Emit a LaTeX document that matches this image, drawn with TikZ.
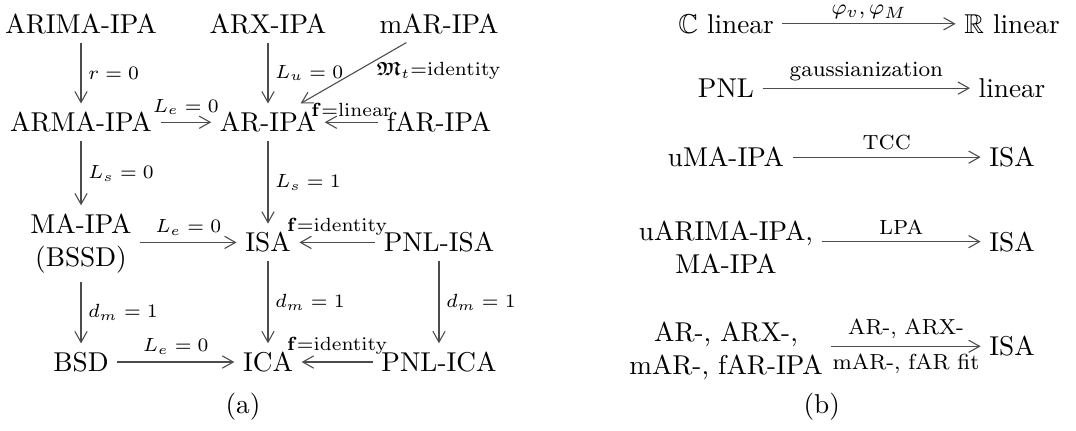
\documentclass[tikz,border=0pt]{standalone}
\usepackage{amsmath,amssymb}
\usetikzlibrary{arrows.meta}

\begin{document}
\begin{tikzpicture}[%
        > = {Straight Barb[length=4pt, width=4.5pt]},
        model/.style = {inner sep = 3pt},
        arr/.style = {->, draw = black!70, line width = 0.4pt},
        lbl/.style = {font = \scriptsize, inner sep = 2.5pt},
        lblb/.style = {font = \footnotesize, inner sep = 2.5pt}
    ]

        \useasboundingbox (0.0, 0.0) rectangle (13.88, 5.547);

        % Positions for all of the models in (a).
        \coordinate (A1) at (1.045, 5.24);
        \coordinate (A2) at (3.457, 5.24);
        \coordinate (A3) at (5.663, 5.24);
        \coordinate (B1) at (1.045, 3.97);
        \coordinate (B2) at (3.457, 3.97);
        \coordinate (B3) at (5.663, 3.97);
        \coordinate (C1) at (1.045, 2.405);
        \coordinate (C2) at (3.457, 2.42);
        \coordinate (C3) at (5.663, 2.42);
        \coordinate (D1) at (1.045, 0.877);
        \coordinate (D2) at (3.457, 0.877);
        \coordinate (D3) at (5.663, 0.877);

        % The models of (a).
        \node[model] (arima) at (A1) {ARIMA-IPA};
        \node[model] (arx) at (A2) {ARX-IPA};
        \node[model] (mar) at (A3) {mAR-IPA};
        \node[model] (arma) at (B1) {ARMA-IPA};
        \node[model] (ar) at (B2) {AR-IPA};
        \node[model] (far) at (B3) {fAR-IPA};
        \node[model, align = center] (ma) at (C1) {MA-IPA\\(BSSD)};
        \node[model] (isa) at (C2) {ISA};
        \node[model] (pnlisa) at (C3) {PNL-ISA};
        \node[model] (bsd) at (D1) {BSD};
        \node[model] (ica) at (D2) {ICA};
        \node[model] (pnlica) at (D3) {PNL-ICA};
        \node (capa) at (3.135, 0.297) {(a)};

        % Reductions between the models of (a).
        \draw[arr] (arima) to node[lbl, right] {$r = 0$} (arma);
        \draw[arr] (arx) to node[lbl, right] {$L_u = 0$} (ar);
        \draw[arr] (mar) to node[lbl, pos = 0.3, below right, inner sep = 0.3pt]
            {$\boldsymbol{\mathfrak{M}}_t{=}\mathrm{identity}$} (ar);
        \draw[arr] (arma) to node[lbl, above] {$L_e = 0$} (ar);
        \draw[arr] (far) to node[lbl, above, inner sep = 2pt] {$\mathbf{f}{=}\mathrm{linear}$} (ar);
        \draw[arr] (arma) to node[lbl, right] {$L_s = 0$} (ma);
        \draw[arr] (ar) to node[lbl, right] {$L_s = 1$} (isa);
        \draw[arr] (ma.east |- isa) to node[lbl, above] {$L_e = 0$} (isa);
        \draw[arr] (pnlisa) to node[lbl, above] {$\mathbf{f}{=}\mathrm{identity}$} (isa);
        \draw[arr] (ma) to node[lbl, right] {$d_m = 1$} (bsd);
        \draw[arr] (isa) to node[lbl, right] {$d_m = 1$} (ica);
        \draw[arr] (pnlisa) to node[lbl, right] {$d_m = 1$} (pnlica);
        \draw[arr] (bsd) to node[lbl, above] {$L_e = 0$} (ica);
        \draw[arr] (pnlica) to node[lbl, above] {$\mathbf{f}{=}\mathrm{identity}$} (ica);

        % The models of (b).
        \node[model] (clin) at (9.365, 5.24) {$\mathbb{C}$ linear};
        \node[model] (rlin) at (13.055, 5.24) {$\mathbb{R}$ linear};
        \node[model] (pnl) at (9.365, 4.41) {PNL};
        \node[model] (lin) at (13.055, 4.41) {linear};
        \node[model] (uma) at (9.365, 3.52) {uMA-IPA};
        \node[model] (isab) at (13.055, 3.52) {ISA};
        \node[model, align = center] (uarima) at (9.365, 2.36) {uARIMA-IPA,\\MA-IPA};
        \node[model] (isac) at (13.055, 2.43) {ISA};
        \node[model, align = center] (arfam) at (9.365, 1.02) {AR-, ARX-,\\mAR-, fAR-IPA};
        \node[model] (isad) at (13.055, 1.08) {ISA};
        \node (capb) at (10.60, 0.297) {(b)};

        % Transformations of (b).
        \draw[arr] (clin) to node[lblb, above, inner sep = 1.5pt] {$\varphi_v, \varphi_M$} (rlin);
        \draw[arr] (pnl) to node[lblb, above] {gaussianization} (lin);
        \draw[arr] (uma) to node[lblb, above] {\normalsize\textsc{tcc}} (isab);
        \draw[arr] (uarima.east |- isac) to node[lblb, above] {\normalsize\textsc{lpa}} (isac);
        \draw[arr] (arfam.east |- isad) to node[lblb, above] {AR-, ARX-}
            node[lblb, below] {mAR-, fAR fit} (isad);
    \end{tikzpicture}
\end{document}
